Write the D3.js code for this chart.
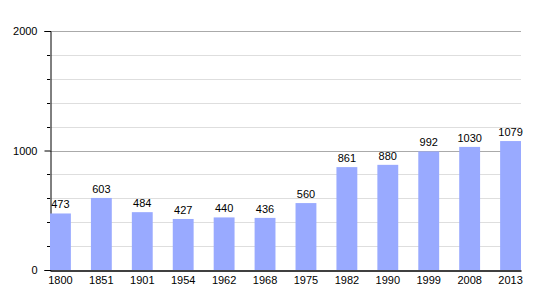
<!DOCTYPE html>
<html>
<head>
<meta charset="utf-8">
<script src="https://cdn.jsdelivr.net/npm/d3@7"></script>
<style>
  body { margin: 0; background: #fff; }
  text { font-family: "Liberation Sans", Arial, sans-serif; font-size: 11px; fill: #000; }
</style>
</head>
<body>
<script>
var years = ["1800", "1851", "1901", "1954", "1962", "1968", "1975", "1982", "1990", "1999", "2008", "2013"];
var population = [473, 603, 484, 427, 440, 436, 560, 861, 880, 992, 1030, 1079];
var majorTicks = [0, 1000, 2000];
var minorTicks = [200, 400, 600, 800, 1200, 1400, 1600, 1800];

var plotLeft = 50, plotRight = 521, plotTop = 31, plotBottom = 270;

var svg = d3.select("body")
            .append("svg")
            .attr("width", 550)
            .attr("height", 300);

var x = d3.scaleBand()
          .domain(years)
          .range([plotLeft, plotRight])
          .paddingInner(0.49)
          .paddingOuter(0);

var y = d3.scaleLinear()
          .domain([0, 2000])
          .range([plotBottom, plotTop]);

// minor gridlines
svg.selectAll("line.minor")
   .data(minorTicks)
   .enter()
        .append("line")
        .attr("x1", plotLeft - 3)
        .attr("x2", plotRight)
        .attr("y1", function(d) { return Math.round(y(d)) + 0.5; })
        .attr("y2", function(d) { return Math.round(y(d)) + 0.5; })
        .attr("stroke", "#dedede");

// major gridlines
svg.selectAll("line.major")
   .data(majorTicks.slice(1))
   .enter()
        .append("line")
        .attr("x1", plotLeft)
        .attr("x2", plotRight)
        .attr("y1", function(d) { return Math.round(y(d)) + 0.5; })
        .attr("y2", function(d) { return Math.round(y(d)) + 0.5; })
        .attr("stroke", "#aaaaaa");

// minor tick marks on the axis
svg.selectAll("line.mtick")
   .data(minorTicks)
   .enter()
        .append("line")
        .attr("x1", plotLeft - 3)
        .attr("x2", plotLeft)
        .attr("y1", function(d) { return Math.round(y(d)) + 0.5; })
        .attr("y2", function(d) { return Math.round(y(d)) + 0.5; })
        .attr("stroke", "#000");

var yAxis = svg.append("g")
               .attr("transform", "translate(" + (plotLeft + 0.5) + ",0)")
               .call(d3.axisLeft(y).tickValues(majorTicks).tickFormat(d3.format("d")).tickSize(6).tickPadding(7));
yAxis.select(".domain").attr("stroke", "#000");
yAxis.selectAll(".tick line").attr("stroke", "#000");
yAxis.selectAll("text").style("font-size", "11px");

svg.selectAll("rect")
   .data(population)
   .enter()
        .append("rect")
        .attr("x", function(d, i) { return x(years[i]); })
        .attr("y", function(d) { return y(d); })
        .attr("width", x.bandwidth())
        .attr("height", function(d) { return plotBottom - y(d); })
        .attr("fill", "#99aaff");

svg.selectAll("text.val")
   .data(population)
   .enter()
        .append("text")
        .attr("class", "val")
        .attr("x", function(d, i) { return x(years[i]) + x.bandwidth() / 2; })
        .attr("y", function(d) { return y(d) - 5; })
        .attr("text-anchor", "middle")
        .text(function(d) { return d; });

var xAxis = svg.append("g")
               .attr("transform", "translate(0," + (plotBottom + 0.5) + ")")
               .call(d3.axisBottom(x).tickSize(0).tickPadding(6));
xAxis.select(".domain").attr("stroke", "#000").attr("stroke-width", 1.5);
xAxis.selectAll("text").style("font-size", "11px");
</script>
</body>
</html>
